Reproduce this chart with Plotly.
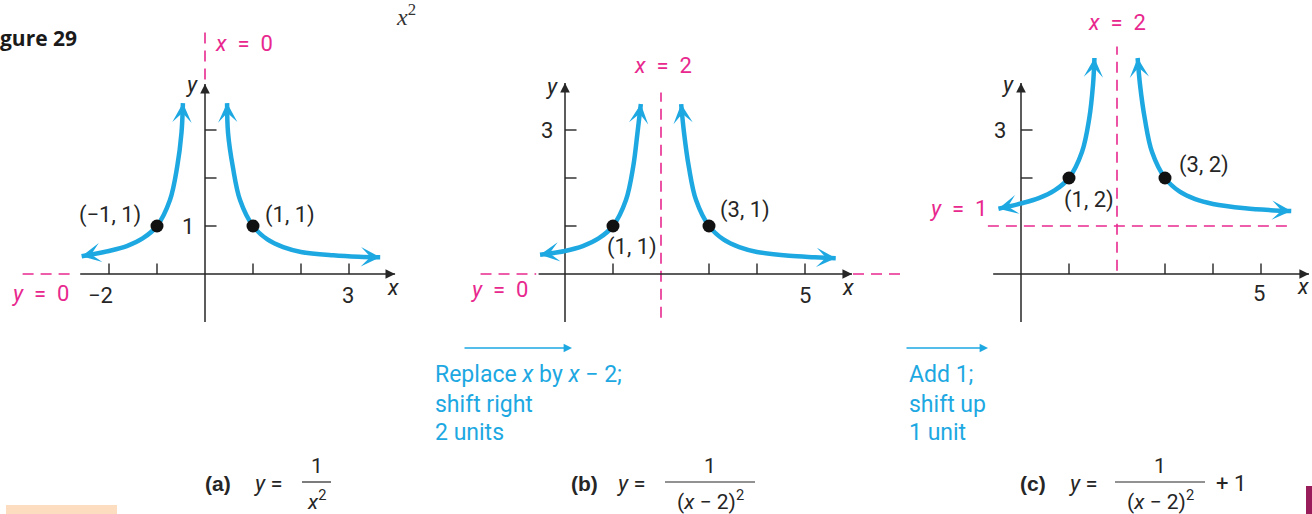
import plotly.graph_objects as go

BLUE = "#1DA8E2"
PINK = "#E8288E"
INK = "#262626"
FONT = "Roboto, Arial, sans-serif"

W, H = 1312, 514
UNIT = 48  # pixels per unit on every panel

# ---- values ----
# panel (a): y = 1/x^2
a_left_x = [-2.57, -2.0, -1.63, -1.3, -1.0, -0.73, -0.58, -0.49, -0.46]
a_left_y = [0.37, 0.48, 0.58, 0.74, 1.0, 1.54, 2.23, 2.94, 3.56]
a_right_x = [0.46, 0.48, 0.58, 0.73, 1.0, 1.3, 1.63, 2.0, 2.67, 3.2, 3.65]
a_right_y = [3.56, 2.94, 2.23, 1.54, 1.0, 0.72, 0.56, 0.46, 0.39, 0.36, 0.35]
a_points_x = [-1, 1]
a_points_y = [1, 1]
a_xticks = [-2, -1, 1, 2, 3]
a_yticks = [1, 2, 3]
a_xaxis_span = [-2.6, 3.96]
a_yaxis_span = [-1.0, 3.96]

# panel (b): y = 1/(x-2)^2
b_left_x = [-0.52, 0.0, 0.37, 0.7, 1.0, 1.27, 1.42, 1.51, 1.58]
b_left_y = [0.40, 0.48, 0.58, 0.74, 1.0, 1.54, 2.23, 2.94, 3.54]
b_right_x = [2.42, 2.48, 2.58, 2.73, 3.0, 3.3, 3.63, 4.0, 4.67, 5.2, 5.64]
b_right_y = [3.54, 2.94, 2.23, 1.54, 1.0, 0.72, 0.56, 0.46, 0.38, 0.35, 0.33]
b_points_x = [1, 3]
b_points_y = [1, 1]
b_xticks = [1, 3, 4, 5]
b_yticks = [1, 2, 3]
b_xaxis_span = [-0.55, 5.98]
b_yaxis_span = [-1.0, 3.98]

# panel (c): y = 1/(x-2)^2 + 1
c_left_x = [-0.47, 0.0, 0.37, 0.7, 1.0, 1.27, 1.42, 1.5, 1.53]
c_left_y = [1.36, 1.47, 1.58, 1.74, 2.0, 2.54, 3.23, 3.94, 4.5]
c_right_x = [2.43, 2.48, 2.58, 2.73, 3.0, 3.3, 3.63, 4.0, 4.67, 5.2, 5.63]
c_right_y = [4.5, 3.94, 3.23, 2.54, 2.0, 1.72, 1.56, 1.46, 1.37, 1.33, 1.31]
c_points_x = [1, 3]
c_points_y = [2, 2]
c_xticks = [1, 3, 4, 5]
c_yticks = [2, 3]
c_xaxis_span = [-0.58, 6.0]
c_yaxis_span = [-1.0, 3.98]


def px(x):
    return x / W


def py(y):
    return 1 - y / H


fig = go.Figure()

# panel placement: pixel domain and pixel origin of each panel
panels = [
    ("x", "y", (0, 440), 205),
    ("x2", "y2", (440, 910), 565),
    ("x3", "y3", (910, 1312), 1021),
]
ORIGIN_Y = 274

for i, (xa, ya, (d0, d1), ox) in enumerate(panels):
    sfx = "" if i == 0 else str(i + 1)
    fig.layout["xaxis" + sfx] = dict(
        domain=[px(d0), px(d1)], range=[(d0 - ox) / UNIT, (d1 - ox) / UNIT],
        visible=False, anchor=ya, fixedrange=True)
    fig.layout["yaxis" + sfx] = dict(
        domain=[0, 1], range=[(ORIGIN_Y - H) / UNIT, ORIGIN_Y / UNIT],
        visible=False, anchor=xa, fixedrange=True)

annots = []


def line(xa, ya, xs, ys, color=INK, width=1.5, dash=None):
    fig.add_trace(go.Scatter(x=xs, y=ys, xaxis=xa, yaxis=ya, mode="lines",
                             line=dict(color=color, width=width, dash=dash),
                             hoverinfo="skip", showlegend=False))


def arrow_head(xa, ya, x_tip, y_tip, x_prev, y_prev, color, width, head, size, length):
    dx, dy = x_tip - x_prev, y_tip - y_prev
    n = (dx * dx + dy * dy) ** 0.5
    annots.append(dict(x=x_tip, y=y_tip, xref=xa, yref=ya, showarrow=True,
                       ax=-dx / n * length, ay=dy / n * length,
                       arrowhead=head, arrowsize=size, arrowwidth=width,
                       arrowcolor=color, text=""))


def axes(xa, ya, xspan, yspan, xticks, yticks):
    line(xa, ya, xspan, [0, 0])
    line(xa, ya, [0, 0], yspan)
    tx, ty = [], []
    for t in xticks:
        tx += [t, t, None]
        ty += [0, 0.22, None]
    for t in yticks:
        tx += [0, 0.24, None]
        ty += [t, t, None]
    line(xa, ya, tx, ty, width=1.4)
    arrow_head(xa, ya, xspan[1], 0, xspan[0], 0, INK, 1.2, 2, 1.6, 10)
    arrow_head(xa, ya, 0, yspan[1], 0, yspan[0], INK, 1.2, 2, 1.6, 10)


def curve(xa, ya, xs, ys):
    fig.add_trace(go.Scatter(x=xs, y=ys, xaxis=xa, yaxis=ya, mode="lines",
                             line=dict(color=BLUE, width=4.5, shape="spline", smoothing=1.0),
                             hoverinfo="skip", showlegend=False))
    arrow_head(xa, ya, xs[0], ys[0], xs[1], ys[1], BLUE, 2.8, 3, 1.15, 9)
    arrow_head(xa, ya, xs[-1], ys[-1], xs[-2], ys[-2], BLUE, 2.8, 3, 1.15, 9)


def points(xa, ya, xs, ys):
    fig.add_trace(go.Scatter(x=xs, y=ys, xaxis=xa, yaxis=ya, mode="markers",
                             marker=dict(color="#111111", size=13),
                             hoverinfo="skip", showlegend=False))


def label(xa, ya, x, y, text, color=INK, size=22, xanchor="center"):
    annots.append(dict(x=x, y=y, xref=xa, yref=ya, text=text, showarrow=False,
                       xanchor=xanchor, yanchor="middle",
                       font=dict(family=FONT, size=size, color=color)))


DASH = "11px,7px"
EQ = "&nbsp;&nbsp;=&nbsp;&nbsp;"

# ---- panel (a) ----
line("x", "y", [0, 0], [4.05, 5.04], PINK, 1.6, DASH)
line("x", "y", [-3.8, -2.7], [0, 0], PINK, 1.6, DASH)
axes("x", "y", a_xaxis_span, a_yaxis_span, a_xticks, a_yticks)
curve("x", "y", a_left_x, a_left_y)
curve("x", "y", a_right_x, a_right_y)
points("x", "y", a_points_x, a_points_y)
label("x", "y", 0.17, 4.81, "<i>x</i>" + EQ + "0", PINK, xanchor="left")
label("x", "y", -0.27, 3.94, "<i>y</i>")
label("x", "y", 3.92, -0.29, "<i>x</i>")
label("x", "y", -3.42, -0.40, "<i>y</i>" + EQ + "0", PINK)
label("x", "y", -1.88, -0.44, "−2", xanchor="right")
label("x", "y", 2.98, -0.44, "3")
label("x", "y", -0.35, 1.0, "1")
label("x", "y", -1.29, 1.23, "(−1, 1)", xanchor="right")
label("x", "y", 1.21, 1.23, "(1, 1)", xanchor="left")

# ---- panel (b) ----
line("x2", "y2", [2, 2], [-0.91, 3.78], PINK, 1.6, DASH)
line("x2", "y2", [-1.76, -0.6], [0, 0], PINK, 1.6, DASH)
line("x2", "y2", [6.0, 7.1], [0, 0], PINK, 1.6, DASH)
axes("x2", "y2", b_xaxis_span, b_yaxis_span, b_xticks, b_yticks)
curve("x2", "y2", b_left_x, b_left_y)
curve("x2", "y2", b_right_x, b_right_y)
points("x2", "y2", b_points_x, b_points_y)
label("x2", "y2", 2.04, 4.35, "<i>x</i>" + EQ + "2", PINK)
label("x2", "y2", -0.27, 3.9, "<i>y</i>")
label("x2", "y2", -0.37, 3.0, "3")
label("x2", "y2", 0.83, 0.56, "(1, 1)", xanchor="left")
label("x2", "y2", 3.19, 1.33, "(3, 1)", xanchor="left")
label("x2", "y2", -1.375, -0.33, "<i>y</i>" + EQ + "0", PINK)
label("x2", "y2", 5.0, -0.44, "5")
label("x2", "y2", 5.9, -0.29, "<i>x</i>")

# ---- panel (c) ----
line("x3", "y3", [2, 2], [0.07, 4.74], PINK, 1.6, DASH)
line("x3", "y3", [-0.69, 5.63], [1, 1], PINK, 1.6, DASH)
axes("x3", "y3", c_xaxis_span, c_yaxis_span, c_xticks, c_yticks)
curve("x3", "y3", c_left_x, c_left_y)
curve("x3", "y3", c_right_x, c_right_y)
points("x3", "y3", c_points_x, c_points_y)
label("x3", "y3", 2.0, 5.23, "<i>x</i>" + EQ + "2", PINK)
label("x3", "y3", -0.27, 3.94, "<i>y</i>")
label("x3", "y3", -0.44, 2.98, "3")
label("x3", "y3", 3.25, 2.27, "(3, 2)", xanchor="left")
label("x3", "y3", 0.85, 1.54, "(1, 2)", xanchor="left")
label("x3", "y3", -1.31, 1.375, "<i>y</i>" + EQ + "1", PINK)
label("x3", "y3", 4.96, -0.40, "5")
label("x3", "y3", 5.875, -0.27, "<i>x</i>")


# ---- paper-level text ----
def ptext(x, y, text, size=20, color=INK, xanchor="center", family=FONT):
    annots.append(dict(x=px(x), y=py(y), xref="paper", yref="paper", text=text,
                       showarrow=False, xanchor=xanchor, yanchor="middle",
                       font=dict(family=family, size=size, color=color)))


def parrow(x0, x1, y):
    annots.append(dict(x=px(x1), y=py(y), xref="paper", yref="paper", text="",
                       showarrow=True, ax=-(x1 - x0), ay=0, arrowhead=2,
                       arrowsize=1.2, arrowwidth=1.4, arrowcolor=BLUE))


parrow(463, 572, 348)
ptext(433, 374, "Replace <i>x</i> by <i>x</i> − 2;", 23, BLUE, "left")
ptext(433, 404, "shift right", 23, BLUE, "left")
ptext(433, 432, "2 units", 23, BLUE, "left")
parrow(905, 988, 348)
ptext(907, 374, "Add 1;", 23, BLUE, "left")
ptext(907, 404, "shift up", 23, BLUE, "left")
ptext(907, 432, "1 unit", 23, BLUE, "left")

shapes = []


def formula(tag, tag_x, eq_x, frac_x0, frac_x1, denom, tail=None):
    ptext(tag_x, 483, "<b>" + tag + "</b>", 21, INK, "left", "Liberation Sans, Arial, sans-serif")
    ptext(eq_x, 483, "<i>y</i> =", 22, INK, "left")
    mid = (frac_x0 + frac_x1) / 2
    ptext(mid, 466, "1", 21)
    ptext(mid, 500, denom, 21)
    shapes.append(dict(type="line", xref="paper", yref="paper",
                       x0=px(frac_x0), x1=px(frac_x1), y0=py(482), y1=py(482),
                       line=dict(color=INK, width=1.2)))
    if tail:
        ptext(frac_x1 + 9, 483, tail, 22, INK, "left")


formula("(a)", 203, 252, 302, 331, "<i>x</i><sup>2</sup>")
formula("(b)", 569, 615, 665, 755, "(<i>x</i> − 2)<sup>2</sup>")
formula("(c)", 1018, 1067, 1115, 1205, "(<i>x</i> − 2)<sup>2</sup>", "+ 1")

# page fragments around the figure
ptext(-2, 38, "<b>gure 29</b>", 21, "#1a1a1a", "left", "Open Sans, sans-serif")
ptext(406, 15, "<i>x</i><sup>2</sup>", 24, "#333333", "center", "Liberation Serif, serif")
shapes.append(dict(type="rect", xref="paper", yref="paper", x0=px(6), x1=px(117),
                   y0=py(514), y1=py(505), fillcolor="#FCDDBF", line=dict(width=0)))
shapes.append(dict(type="rect", xref="paper", yref="paper", x0=px(1306), x1=px(1312),
                   y0=py(514), y1=py(486), fillcolor="#9A1D5B", line=dict(width=0)))

fig.update_layout(
    width=W, height=H, margin=dict(l=0, r=0, t=0, b=0),
    paper_bgcolor="white", plot_bgcolor="rgba(0,0,0,0)",
    showlegend=False, annotations=annots, shapes=shapes,
)

fig.write_html("out.html", config={"displayModeBar": False},
               post_script="document.body.style.margin='0';")
